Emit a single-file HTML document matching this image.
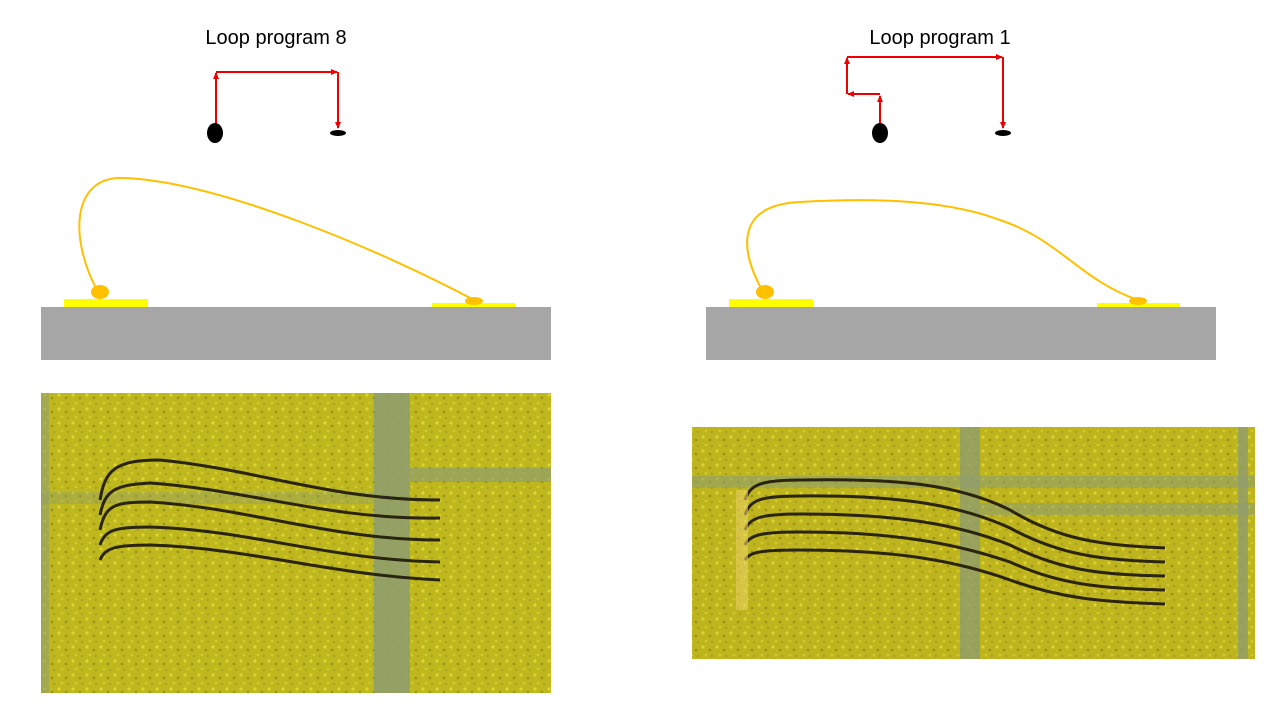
<!DOCTYPE html>
<html><head><meta charset="utf-8"><style>
html,body{margin:0;padding:0;background:#fff;}
svg{display:block}
text{font-family:"Liberation Sans",sans-serif;}
</style></head><body>
<svg width="1280" height="720" viewBox="0 0 1280 720" xmlns="http://www.w3.org/2000/svg">
<defs>
<marker id="ar" markerWidth="8" markerHeight="8" refX="6" refY="3" orient="auto" markerUnits="userSpaceOnUse">
<path d="M0,0 L7,3 L0,6 Z" fill="#e00"/></marker>
<pattern id="spk" width="14" height="14" patternUnits="userSpaceOnUse">
<rect width="14" height="14" fill="#b9b21c"/>
<circle cx="3" cy="3" r="1.6" fill="#e8e040"/><circle cx="10" cy="6" r="1.3" fill="#7e7a18"/>
<circle cx="6" cy="11" r="1.4" fill="#d8d030"/><circle cx="12" cy="12" r="1" fill="#8c8420"/>
</pattern>
</defs>
<text x="276" y="44" font-size="20" text-anchor="middle">Loop program 8</text>
<text x="940" y="44" font-size="20" text-anchor="middle">Loop program 1</text>

<!-- left arrows -->
<g stroke="#e00" stroke-width="2" fill="none">
<line x1="216" y1="125" x2="216" y2="73" marker-end="url(#ar)"/>
<line x1="216" y1="72" x2="337" y2="72" marker-end="url(#ar)"/>
<line x1="338" y1="72" x2="338" y2="128" marker-end="url(#ar)"/>
<line x1="880" y1="125" x2="880" y2="96" marker-end="url(#ar)"/>
<line x1="880" y1="94" x2="848" y2="94" marker-end="url(#ar)"/>
<line x1="847" y1="94" x2="847" y2="58" marker-end="url(#ar)"/>
<line x1="847" y1="57" x2="1002" y2="57" marker-end="url(#ar)"/>
<line x1="1003" y1="57" x2="1003" y2="128" marker-end="url(#ar)"/>
</g>
<ellipse cx="215" cy="133" rx="8" ry="10" fill="#000"/>
<ellipse cx="338" cy="133" rx="8" ry="3" fill="#000"/>
<ellipse cx="880" cy="133" rx="8" ry="10" fill="#000"/>
<ellipse cx="1003" cy="133" rx="8" ry="3" fill="#000"/>

<!-- substrates -->
<rect x="41" y="307" width="510" height="53" fill="#a6a6a6"/>
<rect x="64" y="299" width="84" height="8" fill="#ffff00"/>
<rect x="432" y="303" width="83" height="4" fill="#ffff00"/>
<path d="M97,290 C70,240 70,175 125,178 C220,182 380,250 474,300" stroke="#ffc000" stroke-width="2" fill="none"/>
<ellipse cx="100" cy="292" rx="9" ry="7" fill="#ffc000"/>
<ellipse cx="474" cy="301" rx="9" ry="4" fill="#ffc000"/>

<rect x="706" y="307" width="510" height="53" fill="#a6a6a6"/>
<rect x="729" y="299" width="84" height="8" fill="#ffff00"/>
<rect x="1097" y="303" width="83" height="4" fill="#ffff00"/>
<path d="M762,290 C740,250 735,205 800,202 C900,196 960,205 1000,220 C1060,240 1080,280 1138,300" stroke="#ffc000" stroke-width="2" fill="none"/>
<ellipse cx="765" cy="292" rx="9" ry="7" fill="#ffc000"/>
<ellipse cx="1138" cy="301" rx="9" ry="4" fill="#ffc000"/>

<!-- left photo -->
<rect x="41" y="393" width="510" height="300" fill="url(#spk)"/>
<rect x="41" y="393" width="510" height="300" fill="#c8c020" opacity="0.35"/>
<rect x="374" y="393" width="36" height="300" fill="#8e9e6e" opacity="0.9"/>
<rect x="410" y="468" width="141" height="14" fill="#8e9e6e" opacity="0.7"/>
<rect x="41" y="492" width="333" height="12" fill="#8e9e6e" opacity="0.4"/>
<rect x="41" y="393" width="8" height="300" fill="#8e9e6e" opacity="0.6"/>
<g stroke="#2a2410" stroke-width="3" fill="none">
<path d="M100,500 C105,470 115,460 160,460 C260,470 330,500 440,500"/>
<path d="M100,515 C105,490 115,485 150,483 C250,490 330,520 440,518"/>
<path d="M100,530 C105,505 115,502 150,502 C250,508 330,540 440,540"/>
<path d="M100,545 C105,530 115,527 150,527 C250,530 330,560 440,562"/>
<path d="M100,560 C105,548 115,545 150,545 C250,548 330,575 440,580"/>
</g>

<!-- right photo -->
<rect x="692" y="427" width="563" height="232" fill="url(#spk)"/>
<rect x="692" y="427" width="563" height="232" fill="#c8b820" opacity="0.35"/>
<rect x="960" y="427" width="20" height="232" fill="#8e9e6e" opacity="0.8"/>
<rect x="1238" y="427" width="10" height="232" fill="#8e9e6e" opacity="0.8"/>
<rect x="692" y="476" width="563" height="12" fill="#8e9e6e" opacity="0.6"/>
<rect x="980" y="503" width="275" height="12" fill="#8e9e6e" opacity="0.6"/>
<g stroke="#2a2410" stroke-width="3" fill="none">
<path d="M745,500 C750,485 760,480 800,480 C900,478 960,485 1010,510 C1060,540 1100,545 1165,548"/>
<path d="M745,515 C750,500 760,496 800,496 C900,495 960,505 1010,528 C1060,555 1100,560 1165,562"/>
<path d="M745,530 C750,518 760,514 800,514 C900,514 960,525 1010,545 C1060,570 1100,575 1165,576"/>
<path d="M745,545 C750,535 760,532 800,532 C900,532 960,545 1010,562 C1060,585 1100,588 1165,590"/>
<path d="M745,560 C750,552 760,550 800,550 C900,550 960,562 1010,580 C1060,598 1100,602 1165,604"/>
</g>
<rect x="736" y="490" width="12" height="120" fill="#e8d060" opacity="0.6"/>
</svg>
</body></html>
